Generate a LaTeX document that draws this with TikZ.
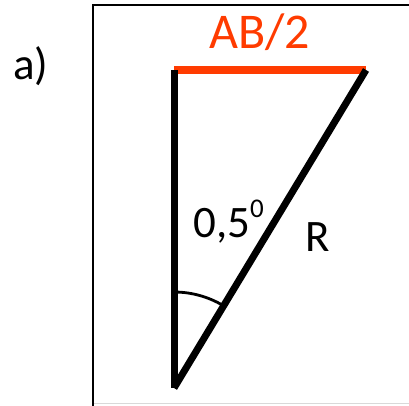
\documentclass[tikz,border=0pt]{standalone}
\usepackage{fontspec}
\setmainfont{Carlito}
\definecolor{abred}{RGB}{255,59,0}
\tikzset{
  thick line/.style={line width=7pt, line cap=butt, black},
  red line/.style={line width=7.5pt, line cap=butt, abred},
  frame/.style={line width=1.5pt, black},
  lbl/.style={inner sep=0pt, anchor=base west},
}
\begin{document}
\begin{tikzpicture}[x=1pt,y=1pt]
\useasboundingbox (0,0) rectangle (409,405);
% frame (right side and bottom run off the picture)
\draw[black!15, line width=1pt] (93,1.5) -- (430,1.5);
\draw[frame] (430,400) -- (93,400) -- (93,-10);
% points
\coordinate (B) at (174,17);
\coordinate (T) at (174,335);
\coordinate (C) at (366,335);
% red top line
\draw[red line] (T) -- (C);
% triangle sides
\draw[thick line] (T) -- (B);
\draw[thick line] (B) -- (C);
% angle arc
\draw[line width=2.8pt] (174,113) arc[start angle=90, end angle=59, radius=96];
% labels
\node[lbl, font=\fontsize{45}{50}\selectfont] (a) at (13,325) {a)};
\node[lbl, font=\fontsize{50}{56}\selectfont, text=abred] (ab) at (209,356) {AB/2};
\node[lbl, font=\fontsize{45}{50}\selectfont] (ang) at (193,168) {0,5};
\node[lbl, font=\fontsize{27}{30}\selectfont] (deg) at (250,188) {0};
\node[lbl, font=\fontsize{45}{50}\selectfont] (r) at (305,154) {R};
\end{tikzpicture}
\end{document}
